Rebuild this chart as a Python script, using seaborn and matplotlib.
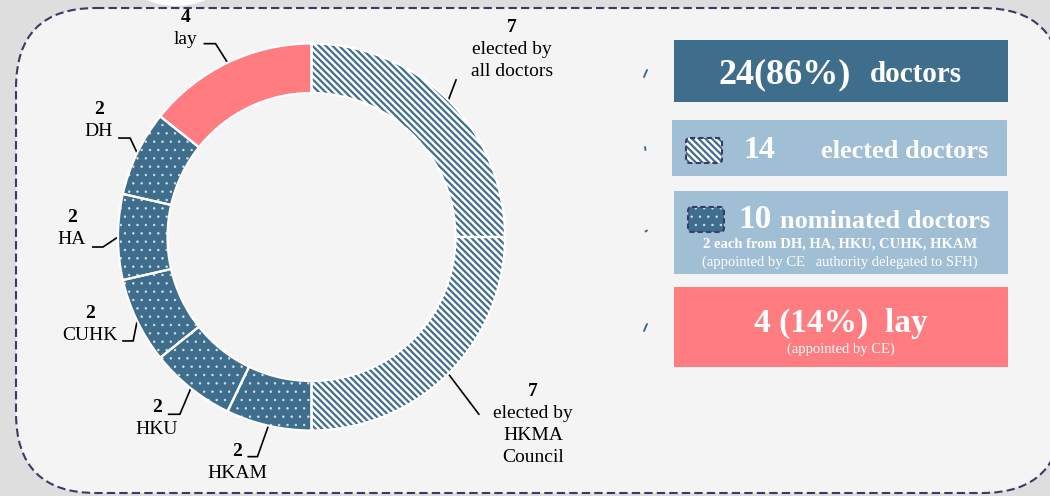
import numpy as np
import matplotlib
matplotlib.use("Agg")
import matplotlib.pyplot as plt
from matplotlib.patches import FancyBboxPatch, Circle, Rectangle
import seaborn as sns

# ---------------- data ----------------
segment_names = ["elected by\nall doctors", "elected by\nHKMA\nCouncil", "HKAM", "HKU",
                 "CUHK", "HA", "DH", "lay"]
segment_seats = [7, 7, 2, 2, 2, 2, 2, 4]
segment_kind = ["elected", "elected", "nominated", "nominated", "nominated",
                "nominated", "nominated", "lay"]

doctors_total = 24
doctors_pct = 86
elected_total = 14
nominated_total = 10
lay_total = 4
lay_pct = 14
nominated_from = "2 each from DH, HA, HKU, CUHK, HKAM"
nominated_note = "(appointed by CE   authority delegated to SFH)"
lay_note = "(appointed by CE)"

# ---------------- style ----------------
sns.set_theme(style="white")
plt.rcParams["font.family"] = ["Liberation Serif", "DejaVu Serif"]
plt.rcParams["hatch.linewidth"] = 1.6

BLUE = "#3f6e8c"
LIGHT = "#a0bed4"
PINK = "#ff7c80"
NAVY = "#3a3a66"
PANEL = "#f4f4f4"
OUTER = "#dedede"

face = {"elected": "white", "nominated": BLUE, "lay": PINK}
hcol = {"elected": BLUE, "nominated": "#d6e2ec", "lay": PINK}
hpat = {"elected": "\\" * 5, "nominated": "..", "lay": None}
hlw = {"elected": 1.6, "nominated": 0.5, "lay": 1.0}


def set_hatch_style(patch, kind):
    patch.set_edgecolor(hcol[kind])
    patch.set_linewidth(0)
    if hpat[kind]:
        patch.set_hatch(hpat[kind])
    if hasattr(patch, "set_hatch_linewidth"):
        patch.set_hatch_linewidth(hlw[kind])


W, H = 1050, 496
fig = plt.figure(figsize=(W / 100, H / 100), dpi=100)
fig.patch.set_facecolor(OUTER)

bg = fig.add_axes([0, 0, 1, 1])
bg.set_xlim(0, W)
bg.set_ylim(H, 0)
bg.axis("off")

# decorative white circle at top
bg.add_patch(Circle((176, -71), 77, facecolor="white", edgecolor="none", zorder=0))
# panel
bg.add_patch(FancyBboxPatch((16, 8), 1046, 485,
                            boxstyle="round,pad=0,rounding_size=80",
                            facecolor=PANEL, edgecolor=NAVY, linewidth=1.5,
                            linestyle=(0, (4, 2)), zorder=1))

# ---------------- donut ----------------
CX, CY, R, RW = 311.5, 237, 193.5, 49.5
half = 200
pie_ax = fig.add_axes([(CX - half) / W, (H - CY - half) / H, 2 * half / W, 2 * half / H])
pie_ax.set_facecolor("none")

colors = [face[k] for k in segment_kind]
w1, _ = pie_ax.pie(segment_seats, radius=R, startangle=90, counterclock=False,
                   colors=colors, wedgeprops=dict(width=RW, linewidth=0))
w2, _ = pie_ax.pie(segment_seats, radius=R, startangle=90, counterclock=False,
                   colors=["none"] * len(segment_seats),
                   wedgeprops=dict(width=RW, linewidth=0))
for w, k in zip(w2, segment_kind):
    set_hatch_style(w, k)
w3, _ = pie_ax.pie(segment_seats, radius=R, startangle=90, counterclock=False,
                   colors=["none"] * len(segment_seats),
                   wedgeprops=dict(width=RW, linewidth=1.6, edgecolor="white"))
pie_ax.set_xlim(-half, half)
pie_ax.set_ylim(-half, half)
pie_ax.set_aspect("equal")
pie_ax.axis("off")

# ---------------- labels with leader lines ----------------
# layout: (elbow offset dx, dy), horizontal length, text centre x, first line y
label_layout = [
    ((8, -21), 0, 512, 27),
    ((31, 41), 0, 533, 392),
    ((-11, 31), -10, 237, 452),
    ((-11, 26), -12, 157, 408),
    ((-4, 20), -11, 90, 313),
    ((-15, 10), -11, 72, 218),
    ((-7, -15), -12, 99, 109),
    ((-12, -19), -12, 186, 17),
]
for w, name, seats, (off, hl, tx, ty) in zip(w1, segment_names, segment_seats, label_layout):
    mid = np.deg2rad((w.theta1 + w.theta2) / 2)
    ax0 = CX + R * np.cos(mid)
    ay0 = CY - R * np.sin(mid)
    ex, ey = ax0 + off[0], ay0 + off[1]
    bg.plot([ax0, ex, ex + hl], [ay0, ey, ey], color="black", lw=1.2,
            solid_capstyle="butt", zorder=3)
    bg.text(tx, ty, str(seats), ha="center", va="center", fontsize=14,
            fontweight="bold", color="black", zorder=3)
    for i, line in enumerate(name.split("\n")):
        bg.text(tx, ty + 22 * (i + 1), line, ha="center", va="center",
                fontsize=14, color="black", zorder=3)

# ---------------- right-hand boxes ----------------
def box(x0, y0, x1, y1, color):
    bg.add_patch(Rectangle((x0, y0), x1 - x0, y1 - y0, facecolor=color,
                           edgecolor="none", zorder=2))

box(674, 40, 1008, 102, BLUE)
box(672, 120, 1007, 176, LIGHT)
box(674, 191, 1008, 274, LIGHT)
box(674, 287, 1008, 367, PINK)

bg.text(719, 83, f"{doctors_total}({doctors_pct}%)", ha="left", va="baseline",
        fontsize=26, fontweight="bold", color="white", zorder=3)
bg.text(870, 82, "doctors", ha="left", va="baseline",
        fontsize=21, fontweight="bold", color="white", zorder=3)

bg.text(743, 158, f"{elected_total}", ha="left", va="baseline",
        fontsize=23, fontweight="bold", color="white", zorder=3)
bg.text(821, 158, "elected doctors", ha="left", va="baseline",
        fontsize=19, fontweight="bold", color="white", zorder=3)

bg.text(738, 228, f"{nominated_total}", ha="left", va="baseline",
        fontsize=24, fontweight="bold", color="white", zorder=3)
bg.text(780, 228, "nominated doctors", ha="left", va="baseline",
        fontsize=19, fontweight="bold", color="white", zorder=3)
bg.text(840, 248, nominated_from, ha="center", va="baseline",
        fontsize=10.5, fontweight="bold", color="white", zorder=3)
bg.text(840, 266, nominated_note, ha="center", va="baseline",
        fontsize=10.5, color="white", zorder=3)

bg.text(841, 332, f"{lay_total} ({lay_pct}%)  lay", ha="center", va="baseline",
        fontsize=24, fontweight="bold", color="white", zorder=3)
bg.text(841, 353, lay_note, ha="center", va="baseline",
        fontsize=10.5, color="white", zorder=3)

# legend icons
def icon(x0, y0, kind):
    p = FancyBboxPatch((x0, y0), 36, 25, boxstyle="round,pad=0,rounding_size=4",
                       facecolor=face[kind], zorder=3)
    set_hatch_style(p, kind)
    bg.add_patch(p)
    bg.add_patch(FancyBboxPatch((x0, y0), 36, 25, boxstyle="round,pad=0,rounding_size=4",
                                facecolor="none", edgecolor=NAVY, linewidth=1.5,
                                linestyle=(0, (2.5, 1.5)), zorder=4))

icon(686, 138, "elected")
icon(688, 207, "nominated")

# small connector stubs
for (xa, ya, xb, yb) in [(644, 77, 647, 70), (645, 147, 645.5, 150),
                         (645.5, 231.5, 647, 230.5), (644, 331, 647, 324)]:
    bg.plot([xa, xb], [ya, yb], color=BLUE, lw=1.4, zorder=3)

fig.savefig("out.png", dpi=100, facecolor=fig.get_facecolor())
